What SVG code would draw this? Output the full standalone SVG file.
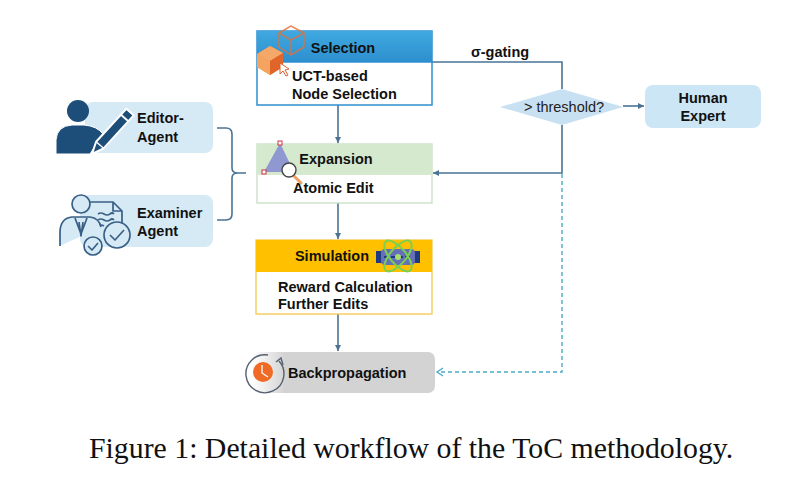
<svg xmlns="http://www.w3.org/2000/svg" width="809" height="497" viewBox="0 0 809 497">
<defs>
<style>
.t{font-family:"Liberation Sans",Arial,sans-serif;font-size:14.5px;font-weight:bold;fill:#111;}
.r{font-family:"Liberation Sans",Arial,sans-serif;font-size:14.5px;fill:#222;}
.ln{fill:none;stroke:#4a7394;stroke-width:1.6;}
.dl{fill:none;stroke:#4bacc6;stroke-width:1.4;stroke-dasharray:4 3;}
.cap{font-family:"Liberation Serif","Times New Roman",serif;font-size:29.8px;fill:#111;}
</style>
<marker id="ah" markerWidth="8" markerHeight="8" refX="6" refY="4" orient="auto" markerUnits="userSpaceOnUse">
<path d="M0,1 L6,4 L0,7 Z" fill="#4a7394"/>
</marker>
<marker id="ahd" markerWidth="10" markerHeight="10" refX="7" refY="5" orient="auto" markerUnits="userSpaceOnUse">
<path d="M1,1 L7,5 L1,9" fill="none" stroke="#4bacc6" stroke-width="1.4"/>
</marker>
<linearGradient id="selg" x1="0" y1="0" x2="0" y2="1">
<stop offset="0" stop-color="#3fa9e0"/>
<stop offset="1" stop-color="#2e8fcf"/>
</linearGradient>
<linearGradient id="bpg" x1="0" y1="0" x2="1" y2="0">
<stop offset="0" stop-color="#d3d3d3" stop-opacity="0"/>
<stop offset="0.18" stop-color="#d3d3d3"/>
<stop offset="1" stop-color="#d3d3d3"/>
</linearGradient>
</defs>
<rect width="809" height="497" fill="#fff"/>

<g id="connectors">
<line class="ln" x1="338" y1="105" x2="338" y2="143" marker-end="url(#ah)"/>
<line class="ln" x1="338" y1="203" x2="338" y2="239" marker-end="url(#ah)"/>
<line class="ln" x1="338" y1="314" x2="338" y2="351" marker-end="url(#ah)"/>
<polyline class="ln" points="432,62 562,62 562,89"/>
<polyline class="ln" points="562,125 562,173 433,173" marker-end="url(#ah)"/>
<line class="ln" x1="623" y1="106" x2="644" y2="106" marker-end="url(#ah)" stroke-width="1.3"/>
<polyline class="dl" points="562,174 562,372 437,372" marker-end="url(#ahd)"/>
<path class="ln" d="M217,128 L226,128 Q232,128 232,134 L232,168 Q232,173 238,173 L246,173 M238,173 Q232,173 232,178 L232,214 Q232,220 226,220 L217,220" stroke="#4a7394" stroke-width="1.3"/>
<text class="t" x="500" y="57" text-anchor="middle" font-size="13">σ-gating</text>
</g>

<g id="selection">
<rect x="257" y="31" width="175" height="74" fill="#fff" stroke="#2e8fcf" stroke-width="1.5"/>
<rect x="257" y="31" width="175" height="31" fill="url(#selg)"/>
<line x1="257" y1="62" x2="432" y2="62" stroke="#2e8fcf" stroke-width="1.5"/>
<text class="t" x="343" y="53" text-anchor="middle" fill="#0b2a4a">Selection</text>
<text class="t" x="292" y="81">UCT-based</text>
<text class="t" x="292" y="99">Node Selection</text>
<g id="sel-icon" stroke-linejoin="round">
<path d="M279,33 L291,26 L304,33 L304,47 L291,55 L279,47 Z M279,33 L291,40 L304,33 M291,40 L291,55" fill="none" stroke="#e0703a" stroke-width="1.5" opacity="0.8"/>
<path d="M257,54 L270,46 L283,53 L283,67 L270,75 L257,67 Z" fill="#f08a40"/>
<path d="M257,54 L270,61 L283,53 L270,46 Z" fill="#f6a868"/>
<path d="M257,54 L270,61 L270,75 L257,67 Z" fill="#f5a460"/>
<path d="M270,61 L283,53 L283,67 L270,75 Z" fill="#e0652a"/>
<path d="M280,63 L280,74 L283,71 L286,76 L288,75 L285,70 L289,69 Z" fill="#fff" stroke="#e06030" stroke-width="1"/>
</g>
</g>

<g id="expansion">
<rect x="257" y="144" width="175" height="59" fill="#fff" stroke="#c5dfc0" stroke-width="1.3"/>
<rect x="257" y="144" width="175" height="31" fill="#d5e9cf"/>
<text class="t" x="336" y="164" text-anchor="middle">Expansion</text>
<text class="t" x="293" y="193">Atomic Edit</text>
<g id="exp-icon">
<path d="M280,143 L264,172 L294,172 Z" fill="#8f98d0"/>
<rect x="278" y="141" width="4" height="4" fill="#fff" stroke="#d03040" stroke-width="1"/>
<rect x="262" y="170" width="4" height="4" fill="#fff" stroke="#d03040" stroke-width="1"/>
<line x1="294" y1="176" x2="301" y2="183" stroke="#f0a060" stroke-width="3" stroke-linecap="round"/>
<circle cx="289" cy="170" r="7" fill="#fff" stroke="#444" stroke-width="1.4"/>
</g>
</g>

<g id="simulation">
<rect x="256" y="240" width="176" height="74" fill="#fff" stroke="#f2c94c" stroke-width="1.3"/>
<rect x="256" y="240" width="176" height="32" fill="#ffc000"/>
<text class="t" x="332" y="261" text-anchor="middle">Simulation</text>
<text class="t" x="278" y="292">Reward Calculation</text>
<text class="t" x="278" y="309">Further Edits</text>
<g id="sim-icon">
<rect x="376" y="251" width="6" height="12" fill="#1f3a80"/>
<rect x="414" y="251" width="6" height="12" fill="#1f3a80"/>
<rect x="381" y="249" width="34" height="16" rx="4" fill="#6670b8"/>
<line x1="384" y1="257" x2="412" y2="257" stroke="#1f3a80" stroke-width="2" stroke-dasharray="5 2"/>
<ellipse cx="398" cy="256" rx="8" ry="19" transform="rotate(40 398 256)" fill="none" stroke="#7ad050" stroke-width="2"/>
<ellipse cx="398" cy="256" rx="8" ry="19" transform="rotate(-40 398 256)" fill="none" stroke="#7ad050" stroke-width="2"/>
<circle cx="398" cy="257" r="3" fill="#a8e070"/>
</g>
</g>

<g id="backpropagation">
<rect x="252" y="352" width="183" height="41" rx="7" fill="url(#bpg)"/>
<text class="t" x="288" y="378">Backpropagation</text>
<g id="bp-icon">
<path d="M279,361 A19,19 0 1 1 268,355" fill="none" stroke="#556070" stroke-width="1.4"/>
<path d="M283,365 L281,358 L276,362" fill="none" stroke="#556070" stroke-width="1.4"/>
<circle cx="263" cy="372" r="10" fill="#f06a25"/>
<path d="M262,365 L262,373 L268,377" fill="none" stroke="#fff" stroke-width="1.3"/>
</g>
</g>

<g id="threshold">
<path d="M500,107 L562,89 L623,107 L562,125 Z" fill="#c7e1f2"/>
<text class="r" x="564" y="112" text-anchor="middle">&gt; threshold?</text>
</g>

<g id="human-expert">
<rect x="645" y="85" width="116" height="43" rx="8" fill="#cde6f5"/>
<text class="t" x="703" y="103" text-anchor="middle">Human</text>
<text class="t" x="703" y="121" text-anchor="middle">Expert</text>
</g>

<g id="editor-agent">
<rect x="85" y="102" width="128" height="51" rx="8" fill="#d6eaf6"/>
<text class="t" x="137" y="123">Editor-</text>
<text class="t" x="137" y="142">Agent</text>
<g id="editor-icon" fill="#1d4e79">
<circle cx="78" cy="111" r="11"/>
<path d="M56,154 L56,140 Q57,126 72,125 L84,125 Q97,126 103,134 L90,154 Z" stroke="#fff" stroke-width="1"/>
<path d="M92,154 L96.1,141.7 L126.3,108.7 L133.7,115.3 L103.6,148.3 Z" stroke="#fff" stroke-width="2" stroke-linejoin="round"/>
<line x1="120.9" y1="114.7" x2="128.4" y2="121.3" stroke="#fff" stroke-width="1.8"/>
<line x1="96.1" y1="141.7" x2="103.6" y2="148.3" stroke="#fff" stroke-width="1.4"/>
</g>
</g>

<g id="examiner-agent">
<rect x="80" y="195" width="133" height="52" rx="8" fill="#d6eaf6"/>
<text class="t" x="137" y="218">Examiner</text>
<text class="t" x="137" y="236">Agent</text>
<g id="examiner-icon" fill="none" stroke="#3a5f85" stroke-width="1.7" stroke-linejoin="round">
<path d="M90,202 L113,202 L122,211 L122,224"/>
<path d="M113,202 L113,211 L122,211"/>
<path d="M98,214 Q101,212 104,214 Q107,216 110,214 Q112,212 114,214 M98,220 Q101,218 104,220 Q107,222 110,220 Q112,218 114,220 M98,226 Q101,224 104,226"/>
<ellipse cx="81" cy="204" rx="9" ry="9" fill="#d6eaf6"/>
<path d="M60,246 L60,231 Q61,218 72,217 L90,217 Q99,218 101,227" fill="#d6eaf6"/>
<path d="M75,218 L81,234 L87,218 M79,222 L81,236 L83,222"/>
<circle cx="117" cy="235" r="13" fill="#d6eaf6"/>
<path d="M110,235 L115,240 L124,230"/>
<circle cx="93" cy="246" r="9" fill="#d6eaf6"/>
<path d="M88,246 L92,250 L98,243"/>
</g>
</g>

<text class="cap" x="89" y="458">Figure 1: Detailed workflow of the ToC methodology.</text>
</svg>
